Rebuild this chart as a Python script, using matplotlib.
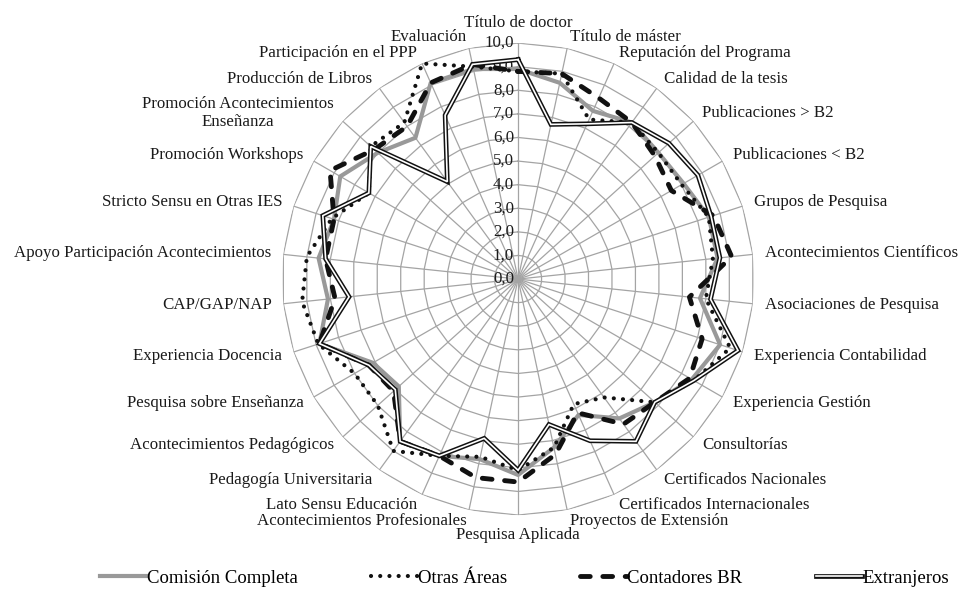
import numpy as np
import matplotlib
matplotlib.use("Agg")
import matplotlib.pyplot as plt
from matplotlib.lines import Line2D

plt.rcParams['font.family'] = ['Liberation Serif', 'DejaVu Serif']

# categorías, en sentido horario desde arriba
categorias = [
    "Título de doctor", "Título de máster", "Reputación del Programa",
    "Calidad de la tesis", "Publicaciones > B2", "Publicaciones < B2",
    "Grupos de Pesquisa", "Acontecimientos Científicos", "Asociaciones de Pesquisa",
    "Experiencia Contabilidad", "Experiencia Gestión", "Consultorías",
    "Certificados Nacionales", "Certificados Internacionales", "Proyectos de Extensión",
    "Pesquisa Aplicada", "Acontecimientos Profesionales", "Lato Sensu Educación",
    "Pedagogía Universitaria", "Acontecimientos Pedagógicos", "Pesquisa sobre Enseñanza",
    "Experiencia Docencia", "CAP/GAP/NAP", "Apoyo Participación Acontecimientos",
    "Stricto Sensu en Otras IES", "Promoción Workshops",
    "Promoción Acontecimientos\nEnseñanza", "Producción de Libros",
    "Participación en el PPP", "Evaluación",
]

comision = [8.9, 8.5, 7.8, 8.2, 8.0, 8.1, 8.5, 8.5, 7.75, 9.0,
            8.5, 7.8, 7.3, 6.3, 7.3, 8.3, 7.8, 8.2, 8.5, 6.8,
            7.1, 8.85, 8.1, 8.5, 8.2, 8.7, 8.0, 7.4, 9.1, 9.1]
otras = [8.8, 8.9, 7.4, 8.2, 8.0, 8.0, 8.5, 8.3, 8.0, 9.45,
         8.6, 7.8, 6.2, 5.8, 7.3, 8.1, 7.7, 8.2, 9.0, 8.0,
         8.0, 8.9, 9.2, 9.0, 8.3, 7.3, 8.4, 8.2, 10.0, 9.2]
contadores = [8.8, 8.9, 8.4, 8.2, 7.8, 7.5, 8.7, 9.1, 7.3, 8.2,
              8.4, 7.8, 7.6, 6.2, 7.6, 8.6, 8.6, 8.2, 8.5, 7.1,
              7.3, 8.85, 7.8, 8.2, 8.2, 9.2, 8.2, 8.0, 9.1, 9.3]
extranjeros = [9.3, 6.7, 7.2, 8.2, 8.6, 8.8, 8.6, 8.6, 8.2, 9.8,
               8.6, 7.8, 8.5, 7.5, 6.3, 8.1, 6.9, 8.2, 8.5, 7.0,
               7.3, 8.85, 7.2, 8.2, 8.7, 7.3, 8.4, 5.1, 7.6, 9.3]

niveles = list(range(0, 11))
series_nombres = ["Comisión Completa", "Otras Áreas", "Contadores BR", "Extranjeros"]

n = len(categorias)
ang = np.linspace(0, 2 * np.pi, n, endpoint=False)
ang_c = np.append(ang, ang[0])


def cerrar(v):
    return np.append(v, v[0])


fig = plt.figure(figsize=(9.61, 5.90), dpi=100)
ax = fig.add_axes([0.2935, 0.127, 0.4912, 0.80], projection='polar')
ax.set_theta_zero_location('N')
ax.set_theta_direction(-1)
ax.set_ylim(0, 10)
ax.grid(False)
ax.spines['polar'].set_visible(False)
ax.set_xticks([])
ax.set_yticks([])

grid_col = '#a4a4a4'
# malla poligonal y radios
for r in niveles[1:]:
    ax.plot(ang_c, [r] * (n + 1), color=grid_col, lw=0.9, zorder=1)
for a in ang:
    ax.plot([a, a], [0, 10], color=grid_col, lw=0.9, zorder=1)

# etiquetas del eje radial
for r in niveles:
    ax.annotate(f"{r},0", xy=(0, r), xytext=(-3, 0), textcoords='offset points',
                ha='right', va='center', fontsize=12.2, color='#1a1a1a')

# etiquetas de categorías
for a, cat in zip(ang, categorias):
    s = np.sin(a)
    c = np.cos(a)
    if abs(s) < 0.05:
        ha = 'center'
        va = 'bottom' if c > 0 else 'top'
        rr = 10.5
    else:
        ha = 'left' if s > 0 else 'right'
        va = 'center'
        rr = 10.5
    ax.text(a, rr, cat, ha=ha, va=va, fontsize=12.2, color='#1a1a1a',
            linespacing=1.15, multialignment='center')

# series
ax.plot(ang_c, cerrar(comision), color='#999999', lw=3.0, zorder=3,
        solid_joinstyle='round')
ax.plot(ang_c, cerrar(otras), color='#111111', lw=3.0, zorder=4,
        linestyle=(0, (0.01, 2.2)), dash_capstyle='round')
ax.plot(ang_c, cerrar(contadores), color='#111111', lw=3.5, zorder=5,
        linestyle=(0, (2.0, 2.6)), dash_capstyle='round')
ax.plot(ang_c, cerrar(extranjeros), color='#111111', lw=3.4, zorder=6,
        solid_joinstyle='miter')
ax.plot(ang_c, cerrar(extranjeros), color='white', lw=1.2, zorder=7,
        solid_joinstyle='miter')

# leyenda
h1 = Line2D([], [], color='#999999', lw=3.0)
h2 = Line2D([], [], color='#111111', lw=3.0, linestyle=(0, (0.01, 2.2)),
            dash_capstyle='round')
h3 = Line2D([], [], color='#111111', lw=3.5, linestyle=(0, (2.0, 2.6)),
            dash_capstyle='round')
h4a = Line2D([], [], color='#111111', lw=3.4)
h4b = Line2D([], [], color='white', lw=1.2)
fig.legend([h1, h2, h3, (h4a, h4b)], series_nombres, loc='center',
           bbox_to_anchor=(0.546, 12 / 590), ncol=4, frameon=False,
           fontsize=13.5, handlelength=2.5, handletextpad=0.0,
           columnspacing=3.9)

fig.savefig('out.png', dpi=100, facecolor='white')
